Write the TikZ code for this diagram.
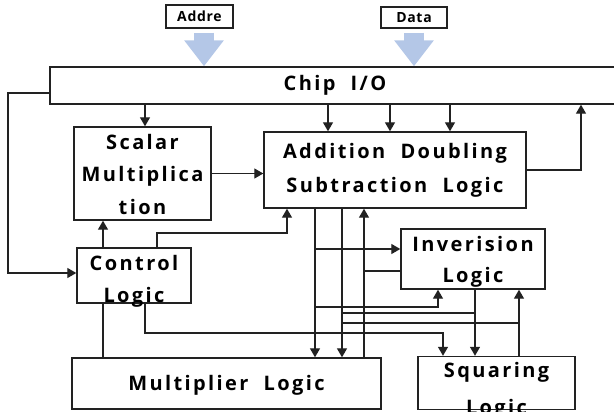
\documentclass[tikz,border=0pt]{standalone}
\usepackage{fontspec}
\setmainfont{Open Sans}
\usetikzlibrary{arrows.meta,calc}
\definecolor{ln}{HTML}{222222}
\definecolor{blu}{HTML}{B4C7E7}
\newcommand{\bigtxt}{\fontsize{20}{33}\selectfont\bfseries\addfontfeatures{LetterSpace=12}}
\newcommand{\smalltxt}{\fontsize{14}{16}\selectfont\bfseries\addfontfeatures{LetterSpace=5}}
% text block: last baseline lowered by #1 below the node centre
\newcommand{\tl}[2]{\raisebox{-#1pt}[0pt][0pt]{\begin{tabular}[b]{@{}c@{}}#2\end{tabular}}}
\tikzset{
  blk/.style={draw=ln, line width=1.4pt, inner sep=0pt, font=\bigtxt, text=black},
  tag/.style={draw=ln, line width=1.2pt, inner sep=0pt, font=\smalltxt},
  wire/.style={draw=ln, line width=1.3pt},
  arr/.style={wire, -{Triangle[width=10pt,length=9pt]}},
  bigarrow/.style={draw=blu, line width=20pt, -{Triangle[width=38pt,length=26pt]}, shorten <=4pt},
}
\begin{document}
\begin{tikzpicture}[x=1pt,y=-1pt]
\useasboundingbox (0,0) rectangle (614,412);
% helper coordinates
\foreach \v in {8,103,145,157,204,287,315,328,342,364,390,414,438,443,450,475,519,581}
  \coordinate (c\v) at (\v,0);
\foreach \v in {93,233,249,271,273,307,313,323,333}
  \coordinate (h\v) at (0,\v);
% nodes
\node[tag, minimum width=67pt, minimum height=23pt] (addre) at (199.5,16.5) {Addre};
\node[tag, minimum width=66pt, minimum height=21pt] (data) at (414,17.5) {Data};
\node[blk, minimum width=570pt, minimum height=37pt] (chip) at (335,85.5) {\tl{5.5}{Chip\ \ I/O}};
\node[blk, minimum width=137pt, minimum height=93pt] (scalar) at (142.5,173.5) {\tl{41.5}{Scalar\\Multiplica\\tion}};
\node[blk, minimum width=262pt, minimum height=76pt] (add) at (395,170) {\tl{23}{Addition\ \ Doubling\\[2pt]Subtraction\ \ Logic}};
\node[blk, minimum width=114pt, minimum height=55pt] (ctrl) at (134,275.5) {\tl{26.5}{Control\\[-1pt]Logic}};
\node[blk, minimum width=144pt, minimum height=60pt] (inv) at (473,259) {\tl{23}{Inverision\\[-2pt]Logic}};
\node[blk, minimum width=309pt, minimum height=51pt] (mult) at (226.5,383.5) {\tl{6.5}{Multiplier\ \ Logic}};
\node[blk, minimum width=157pt, minimum height=53pt] (sq) at (496.5,383) {\tl{31}{Squaring\\[4pt]Logic}};
% big input arrows
\draw[bigarrow] (addre.south -| c204) -- (chip.north -| c204);
\draw[bigarrow] (data.south -| c414) -- (chip.north -| c414);
% connectors
\draw[arr] (chip.south -| c145) -- (scalar.north -| c145);
\foreach \c in {c328,c390,c450}
  \draw[arr] (chip.south -| \c) -- (add.north -| \c);
\draw[arr] (add.east) -| (chip.south -| c581);
\draw[arr] (chip.west |- h93) -| (c8 |- h273) -- (ctrl.west |- h273);
\draw[arr] (scalar.east) -- (scalar.east -| add.west);
\draw[arr] (ctrl.north -| c103) -- (scalar.south -| c103);
\draw[arr] (ctrl.north -| c157) |- (c287 |- h233) -- (add.south -| c287);
\draw[wire] (ctrl.south -| c103) -- (mult.north -| c103);
\draw[arr] (ctrl.south -| c145) |- (c443 |- h333) -- (sq.north -| c443);
\draw[arr] (add.south -| c315) -- (mult.north -| c315);
\draw[arr] (add.south -| c342) -- (mult.north -| c342);
\draw[arr] (mult.north -| c364) -- (add.south -| c364);
\draw[arr] (c315 |- h249) -- (inv.west |- h249);
\draw[wire] (inv.west |- h271) -- (c364 |- h271);
\draw[arr] (c315 |- h307) -| (inv.south -| c438);
\draw[wire] (c342 |- h313) -- (c475 |- h313);
\draw[wire] (c342 |- h323) -- (c519 |- h323);
\draw[arr] (inv.south -| c475) -- (sq.north -| c475);
\draw[arr] (sq.north -| c519) -- (inv.south -| c519);
\end{tikzpicture}
\end{document}
